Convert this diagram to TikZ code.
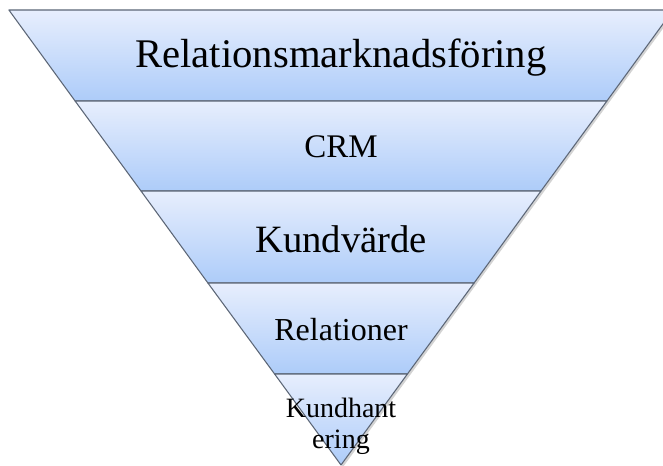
\documentclass[tikz,border=0pt]{standalone}
\usepackage{fontspec}
\setmainfont{Liberation Serif}
\usetikzlibrary{shadows}

\definecolor{bandtop}{RGB}{231,238,253}
\definecolor{bandbottom}{RGB}{173,204,249}
\definecolor{bandline}{RGB}{92,102,118}

\begin{document}
\begin{tikzpicture}[
    x=0.75pt, y=-0.75pt,
    band/.style={top color=bandtop, bottom color=bandbottom, draw=bandline, line width=0.8pt, line join=round},
    level/.style={inner sep=0pt, align=center, text=black}
]
\useasboundingbox (0,0) rectangle (663,466);

% Soft shadow behind the funnel
\fill[white, drop shadow={opacity=0.35, shadow xshift=1.5pt, shadow yshift=-1.5pt}]
    (8.9,10) -- (673.1,10) -- (341,465) -- cycle;

% Bands, top to bottom
\path[band] (8.9,10) -- (673.1,10) -- (606.9,101) -- (75.1,101) -- cycle;
\path[band] (75.1,101) -- (606.9,101) -- (541,191) -- (141,191) -- cycle;
\path[band] (141,191) -- (541,191) -- (474.1,283) -- (207.9,283) -- cycle;
\path[band] (207.9,283) -- (474.1,283) -- (407.4,374) -- (274.6,374) -- cycle;
\path[band] (274.6,374) -- (407.4,374) -- (341,465) -- cycle;

% Labels
\node[level, anchor=base, font=\fontsize{30.5}{36}\selectfont] (relmark) at (341,68) {Relationsmarknadsföring};
\node[level, anchor=base, font=\fontsize{24.75}{30}\selectfont] (crm) at (341,158) {CRM};
\node[level, anchor=base, font=\fontsize{29}{34}\selectfont] (kundvarde) at (341,252.5) {Kundvärde};
\node[level, anchor=base, font=\fontsize{24}{29}\selectfont] (relationer) at (341,340) {Relationer};
\node[level, font=\fontsize{21}{23.25}\selectfont] (kundhantering) at (341,426) {Kundhant\\ering};

\end{tikzpicture}
\end{document}
